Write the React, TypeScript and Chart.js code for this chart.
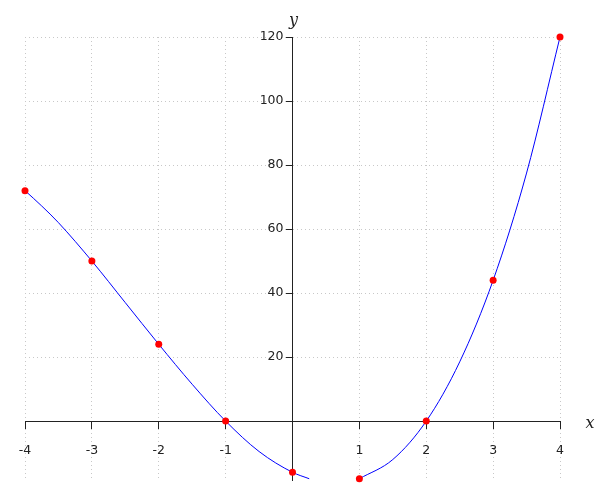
import React, { useEffect, useRef } from "react";
import { Chart, registerables } from "chart.js";

Chart.register(...registerables);

const pointX = [-4, -3, -2, -1, 0, 1, 2, 3, 4];
const pointY = [72, 50, 24, 0, -16, -18, 0, 44, 120];

const leftCurveX = [-4, -3.75, -3.5, -3, -2.5, -2, -1.5, -1, -0.5, 0, 0.25];
const leftCurveY = [72, 67.2, 62, 50, 37, 24, 11.5, 0, -9.5, -16, -18];

const rightCurveX = [1, 1.5, 2, 2.5, 3, 3.5, 4];
const rightCurveY = [-18, -12, 0, 18.5, 44, 77.5, 120];

const xTicks = [-4, -3, -2, -1, 1, 2, 3, 4];
const yTicks = [20, 40, 60, 80, 100, 120];

const xRange = [-4, 4];
const yRange = [-18.4, 120];

const axisTitles = { x: "x", y: "y" };

export default function App() {
  const ref = useRef<HTMLCanvasElement | null>(null);

  useEffect(() => {
    if (!ref.current) return;
    const tickFont = { family: "DejaVu Sans", size: 12.5 };
    const titlePlugin = {
      id: "axisTitles",
      afterDraw(chart: any) {
        const { ctx, chartArea, scales } = chart;
        ctx.save();
        ctx.font = 'italic 16px "DejaVu Serif"';
        ctx.fillStyle = "#222";
        ctx.textAlign = "center";
        ctx.textBaseline = "middle";
        ctx.fillText(axisTitles.x, chartArea.right + 30, scales.y.getPixelForValue(0) + 3);
        ctx.textBaseline = "bottom";
        ctx.fillText(axisTitles.y, scales.x.getPixelForValue(0) + 1, chartArea.top - 8);
        ctx.restore();
      },
    };
    const curveStyle = {
      showLine: true,
      pointRadius: 0,
      borderColor: "#0000ff",
      borderWidth: 1,
      cubicInterpolationMode: "monotone" as const,
      clip: false,
      order: 1,
    };
    const chart = new Chart(ref.current, {
      type: "scatter",
      data: {
        datasets: [
          {
            data: pointX.map((x, i) => ({ x, y: pointY[i] })),
            pointRadius: 3.5,
            pointBackgroundColor: "#ff0000",
            pointBorderWidth: 0,
            showLine: false,
            clip: false,
            order: 0,
          } as any,
          {
            data: leftCurveX.map((x, i) => ({ x, y: leftCurveY[i] })),
            ...curveStyle,
          },
          {
            data: rightCurveX.map((x, i) => ({ x, y: rightCurveY[i] })),
            ...curveStyle,
          },
        ],
      },
      options: {
        animation: false,
        responsive: false,
        layout: { padding: { left: 25, right: 40, top: 37, bottom: 20 } },
        plugins: { legend: { display: false }, tooltip: { enabled: false } },
        scales: {
          x: {
            type: "linear",
            position: { y: 0 } as any,
            min: xRange[0],
            max: xRange[1],
            afterBuildTicks: (s: any) => {
              s.ticks = xTicks.map((v) => ({ value: v }));
            },
            ticks: { font: tickFont, color: "#222", maxRotation: 0, autoSkip: false, padding: 15 },
            grid: { color: "#c8c8c8", lineWidth: 1, tickColor: "#222", tickLength: 7, tickBorderDash: [] } as any,
            border: { color: "#222", width: 1, dash: [1, 3] },
          },
          y: {
            type: "linear",
            position: "center",
            min: yRange[0],
            max: yRange[1],
            afterBuildTicks: (s: any) => {
              s.ticks = yTicks.map((v) => ({ value: v }));
            },
            ticks: { font: tickFont, color: "#222", autoSkip: false, padding: 3 },
            grid: { color: "#c8c8c8", lineWidth: 1, tickColor: "#222", tickLength: 6, tickBorderDash: [] } as any,
            border: { color: "#222", width: 1, dash: [1, 3] },
          },
        },
      },
      plugins: [titlePlugin],
    });
    return () => chart.destroy();
  }, []);

  return (
    <canvas
      ref={ref}
      width={600}
      height={500}
      style={{ position: "absolute", left: 0, top: 0, width: 600, height: 500 }}
    />
  );
}
